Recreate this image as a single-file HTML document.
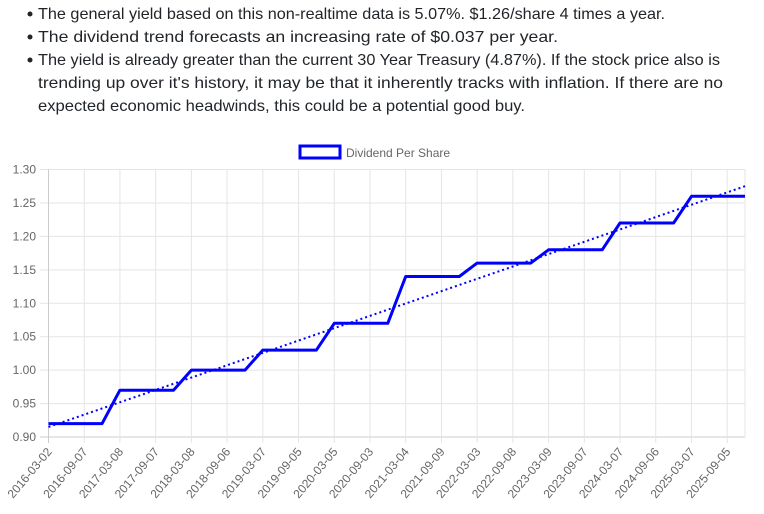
<!DOCTYPE html>
<html><head><meta charset="utf-8"><style>
html,body{margin:0;padding:0;background:#fff;width:764px;height:514px;overflow:hidden}
svg{display:block}
.t{font-family:"Liberation Sans",sans-serif;font-size:16px;fill:#212529}
.a{font-family:"Liberation Sans",sans-serif;font-size:12px;fill:#666}
</style></head><body>
<svg id="s" width="764" height="514" xmlns="http://www.w3.org/2000/svg">
<circle cx="30" cy="14" r="2.5" fill="#212529"/>
<circle cx="30" cy="37" r="2.5" fill="#212529"/>
<circle cx="30" cy="60" r="2.5" fill="#212529"/>
<text class="t" x="38" y="19" textLength="627" lengthAdjust="spacingAndGlyphs">The general yield based on this non-realtime data is 5.07%. $1.26/share 4 times a year.</text>
<text class="t" x="38" y="42" textLength="520" lengthAdjust="spacingAndGlyphs">The dividend trend forecasts an increasing rate of $0.037 per year.</text>
<text class="t" x="38" y="65" textLength="682" lengthAdjust="spacingAndGlyphs">The yield is already greater than the current 30 Year Treasury (4.87%). If the stock price also is</text>
<text class="t" x="38" y="88" textLength="685" lengthAdjust="spacingAndGlyphs">trending up over it's history, it may be that it inherently tracks with inflation. If there are no</text>
<text class="t" x="38" y="111" textLength="487" lengthAdjust="spacingAndGlyphs">expected economic headwinds, this could be a potential good buy.</text>
<rect x="300" y="146" width="40" height="12" fill="none" stroke="#0000ff" stroke-width="3"/>
<text class="a" x="346" y="157">Dividend Per Share</text>
<g id="g"></g>
</svg>
<script>
var g=document.getElementById('g'),h='';
var x0=48.5,dx=17.86,y0=437,ky=(437-169.5)/0.4;
function X(i){return x0+dx*i}function Y(v){return y0-(v-0.9)*ky}
var labels=["2016-03-02","2016-09-07","2017-03-08","2017-09-07","2018-03-08","2018-09-06","2019-03-07","2019-09-05","2020-03-05","2020-09-03","2021-03-04","2021-09-09","2022-03-03","2022-09-08","2023-03-09","2023-09-07","2024-03-07","2024-09-06","2025-03-07","2025-09-05"];
for(var k=0;k<=8;k++){var v=0.9+k*0.05,y=Y(v);
h+='<line x1="40" x2="745" y1="'+y+'" y2="'+y+'" stroke="'+(k==0?'#ccc':'#e5e5e5')+'"/>';
h+='<text class="a" x="36" y="'+(y+4)+'" text-anchor="end" font-size="12.5">'+v.toFixed(2)+'</text>';}
for(var j=0;j<20;j++){var x=X(2*j);
h+='<line x1="'+x+'" x2="'+x+'" y1="169.5" y2="443" stroke="'+(j==0?'#ccc':'#e5e5e5')+'"/>';
h+='<text class="a" font-size="12.5" transform="translate('+(x+4)+',452) rotate(-50)" text-anchor="end">'+labels[j]+'</text>';}
h+='<line x1="745" x2="745" y1="169.5" y2="437" stroke="#e5e5e5"/>';
var lv=[0.92,0.97,1.00,1.03,1.07,1.14,1.16,1.18,1.22,1.26],p='';
for(var i=0;i<40;i++){p+=(i?'L':'M')+X(i).toFixed(1)+' '+Y(lv[Math.floor(i/4)]).toFixed(1);}
h+='<path d="M'+x0+' '+Y(0.915)+'L'+X(39)+' '+Y(1.275)+'" stroke="#0000ff" stroke-width="2" stroke-dasharray="2,3" fill="none"/>';
h+='<path d="'+p+'" stroke="#0000ff" stroke-width="3" fill="none" stroke-linejoin="round"/>';
g.innerHTML=h;
</script>
</body></html>
